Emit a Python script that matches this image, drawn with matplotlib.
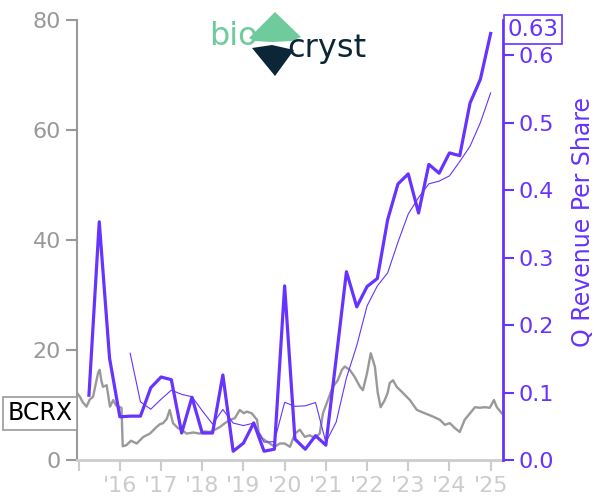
import numpy as np
import pandas as pd
from matplotlib import pyplot as plt
from matplotlib.patches import Polygon

# stock price (BCRX), decimal years
price_t = [2014.96, 2015.03, 2015.10, 2015.19, 2015.27, 2015.35, 2015.42, 2015.47, 2015.51, 2015.55,
           2015.59, 2015.68, 2015.76, 2015.84, 2015.90, 2015.96, 2016.04, 2016.07, 2016.16, 2016.27,
           2016.41, 2016.49, 2016.57, 2016.73, 2016.89, 2016.97, 2017.05, 2017.14, 2017.21, 2017.29,
           2017.41, 2017.50, 2017.62, 2017.78, 2017.94, 2018.06, 2018.18, 2018.31, 2018.43, 2018.55,
           2018.67, 2018.79, 2018.91, 2019.01, 2019.08, 2019.20, 2019.33, 2019.37, 2019.45, 2019.52,
           2019.64, 2019.76, 2019.88, 2020.00, 2020.13, 2020.25, 2020.37, 2020.49, 2020.61, 2020.73,
           2020.85, 2020.93, 2021.05, 2021.17, 2021.29, 2021.39, 2021.46, 2021.58, 2021.70, 2021.83,
           2021.90, 2022.00, 2022.09, 2022.19, 2022.26, 2022.33, 2022.43, 2022.50, 2022.55, 2022.63,
           2022.72, 2022.87, 2023.04, 2023.21, 2023.40, 2023.60, 2023.77, 2023.89, 2024.01, 2024.13,
           2024.25, 2024.37, 2024.50, 2024.62, 2024.74, 2024.86, 2024.98, 2025.08, 2025.15, 2025.27]
price = [12.2, 11.5, 10.5, 9.7, 11.0, 11.5, 14.0, 15.8, 16.4, 14.5,
         13.3, 13.6, 9.7, 10.9, 10.0, 9.7, 9.5, 2.5, 2.7, 3.5,
         3.0, 3.6, 4.2, 4.8, 6.0, 6.5, 6.7, 7.5, 9.1, 6.7,
         5.8, 5.5, 4.8, 5.0, 4.8, 5.2, 5.1, 5.5, 6.0, 6.7,
         7.3, 7.6, 9.1, 8.5, 8.8, 8.5, 7.3, 5.0, 4.0, 3.6,
         3.0, 2.4, 3.0, 3.0, 2.4, 4.8, 5.5, 4.2, 4.5, 4.0,
         4.8, 8.5, 10.9, 13.3, 14.5, 16.4, 17.0, 16.4, 15.1, 13.3,
         12.7, 15.8, 19.4, 17.0, 12.2, 9.6, 10.9, 12.2, 14.0, 14.5,
         13.3, 12.2, 10.9, 9.1, 8.5, 7.9, 7.3, 6.4, 6.7, 5.8,
         5.1, 7.3, 8.5, 9.6, 9.5, 9.6, 9.5, 10.9, 9.6, 8.5]

# quarterly revenue per share, quarter ends
rev_t = [2015.25, 2015.5, 2015.75, 2016.0, 2016.25, 2016.5, 2016.75, 2017.0, 2017.25, 2017.5,
         2017.75, 2018.0, 2018.25, 2018.5, 2018.75, 2019.0, 2019.25, 2019.5, 2019.75, 2020.0,
         2020.25, 2020.5, 2020.75, 2021.0, 2021.25, 2021.5, 2021.75, 2022.0, 2022.25, 2022.5,
         2022.75, 2023.0, 2023.25, 2023.5, 2023.75, 2024.0, 2024.25, 2024.5, 2024.75, 2025.0]
rev = [0.096, 0.353, 0.151, 0.064, 0.065, 0.065, 0.107, 0.123, 0.119, 0.040,
       0.093, 0.040, 0.040, 0.126, 0.013, 0.025, 0.055, 0.013, 0.016, 0.258,
       0.031, 0.016, 0.036, 0.022, 0.150, 0.279, 0.227, 0.257, 0.269, 0.356,
       0.409, 0.424, 0.366, 0.438, 0.425, 0.455, 0.451, 0.529, 0.564, 0.632]

years = list(range(2015, 2026))
year_labels = [''] + ["'" + str(y)[2:] for y in years[1:]]

purple = '#6633ff'
gray = '#999999'
light = '#cccccc'

fig = plt.figure(figsize=(6, 5), dpi=100)
ax = fig.add_axes([77/600, 40/500, 426/600, 440/500])
ax2 = ax.twinx()

ax.plot(price_t, price, color=gray, lw=1.7)
ax.set_ylim(0, 80)
ax.set_xlim(2014.96, 2025.3)
ax.set_yticks([0, 20, 40, 60, 80])
ax.set_xticks(years)
ax.set_xticklabels(year_labels)

# thin line: trailing 4-quarter average
rs = pd.Series(rev, index=rev_t)
avg = rs.rolling(4).mean().iloc[4:]
ax2.plot(avg.index, avg.values, color=purple, lw=0.8)
ax2.plot(rev_t, rev, color=purple, lw=2.3)
ax2.set_ylim(0, 0.652)
ax2.set_yticks([0, 0.1, 0.2, 0.3, 0.4, 0.5, 0.6])
ax2.set_yticklabels(['%.1f' % v for v in ax2.get_yticks()])
ax2.set_ylabel('Q Revenue Per Share', color=purple, fontsize=17)
ax2.yaxis.set_label_coords(1.16, 0.54)

for a in (ax, ax2):
    a.spines['top'].set_visible(False)
ax.spines['right'].set_visible(False)
ax.spines['left'].set_color(gray)
ax.spines['left'].set_linewidth(1.5)
ax.spines['bottom'].set_color(light)
ax.spines['bottom'].set_linewidth(2)
ax2.spines['left'].set_visible(False)
ax2.spines['bottom'].set_visible(False)
ax2.spines['right'].set_color(purple)
ax2.spines['right'].set_linewidth(2)

ax.tick_params(axis='y', colors=gray, labelsize=16, length=8, width=1.5)
ax.tick_params(axis='x', colors=light, labelsize=16, length=8, width=1.5)
ax2.tick_params(axis='y', colors=purple, labelsize=16, length=8, width=1.5)

# last value labels
ax.text(-0.01, price[-1], 'BCRX', transform=ax.get_yaxis_transform(), ha='right', va='center',
        fontsize=17, color='black',
        bbox=dict(boxstyle='square,pad=0.2', fc='white', ec=gray, lw=1.2))
ax2.text(1.01, 0.638, '%.2f' % rev[-1], transform=ax2.get_yaxis_transform(), ha='left',
         va='center', fontsize=16.5, color=purple,
         bbox=dict(boxstyle='square,pad=0.15', fc='white', ec=purple, lw=1.2))

# logo
W, H = 600, 500
def fp(pts):
    return [(x/W, 1 - y/H) for x, y in pts]
fig.patches.append(Polygon(fp([(275, 12), (301, 37), (292, 41), (272, 42), (254, 41), (249, 38)]),
                           closed=True, fc='#6fcb9b', ec='none', transform=fig.transFigure))
fig.patches.append(Polygon(fp([(252, 48), (272, 45), (294, 50), (275, 76)]),
                           closed=True, fc='#0c2637', ec='none', transform=fig.transFigure))
fig.text(209/W, 1 - 45/H, 'bio', color='#6fcb9b', fontsize=23, ha='left', va='baseline')
fig.text(287/W, 1 - 57/H, 'cryst', color='#0c2637', fontsize=23, ha='left', va='baseline')

fig.savefig('out.png')
